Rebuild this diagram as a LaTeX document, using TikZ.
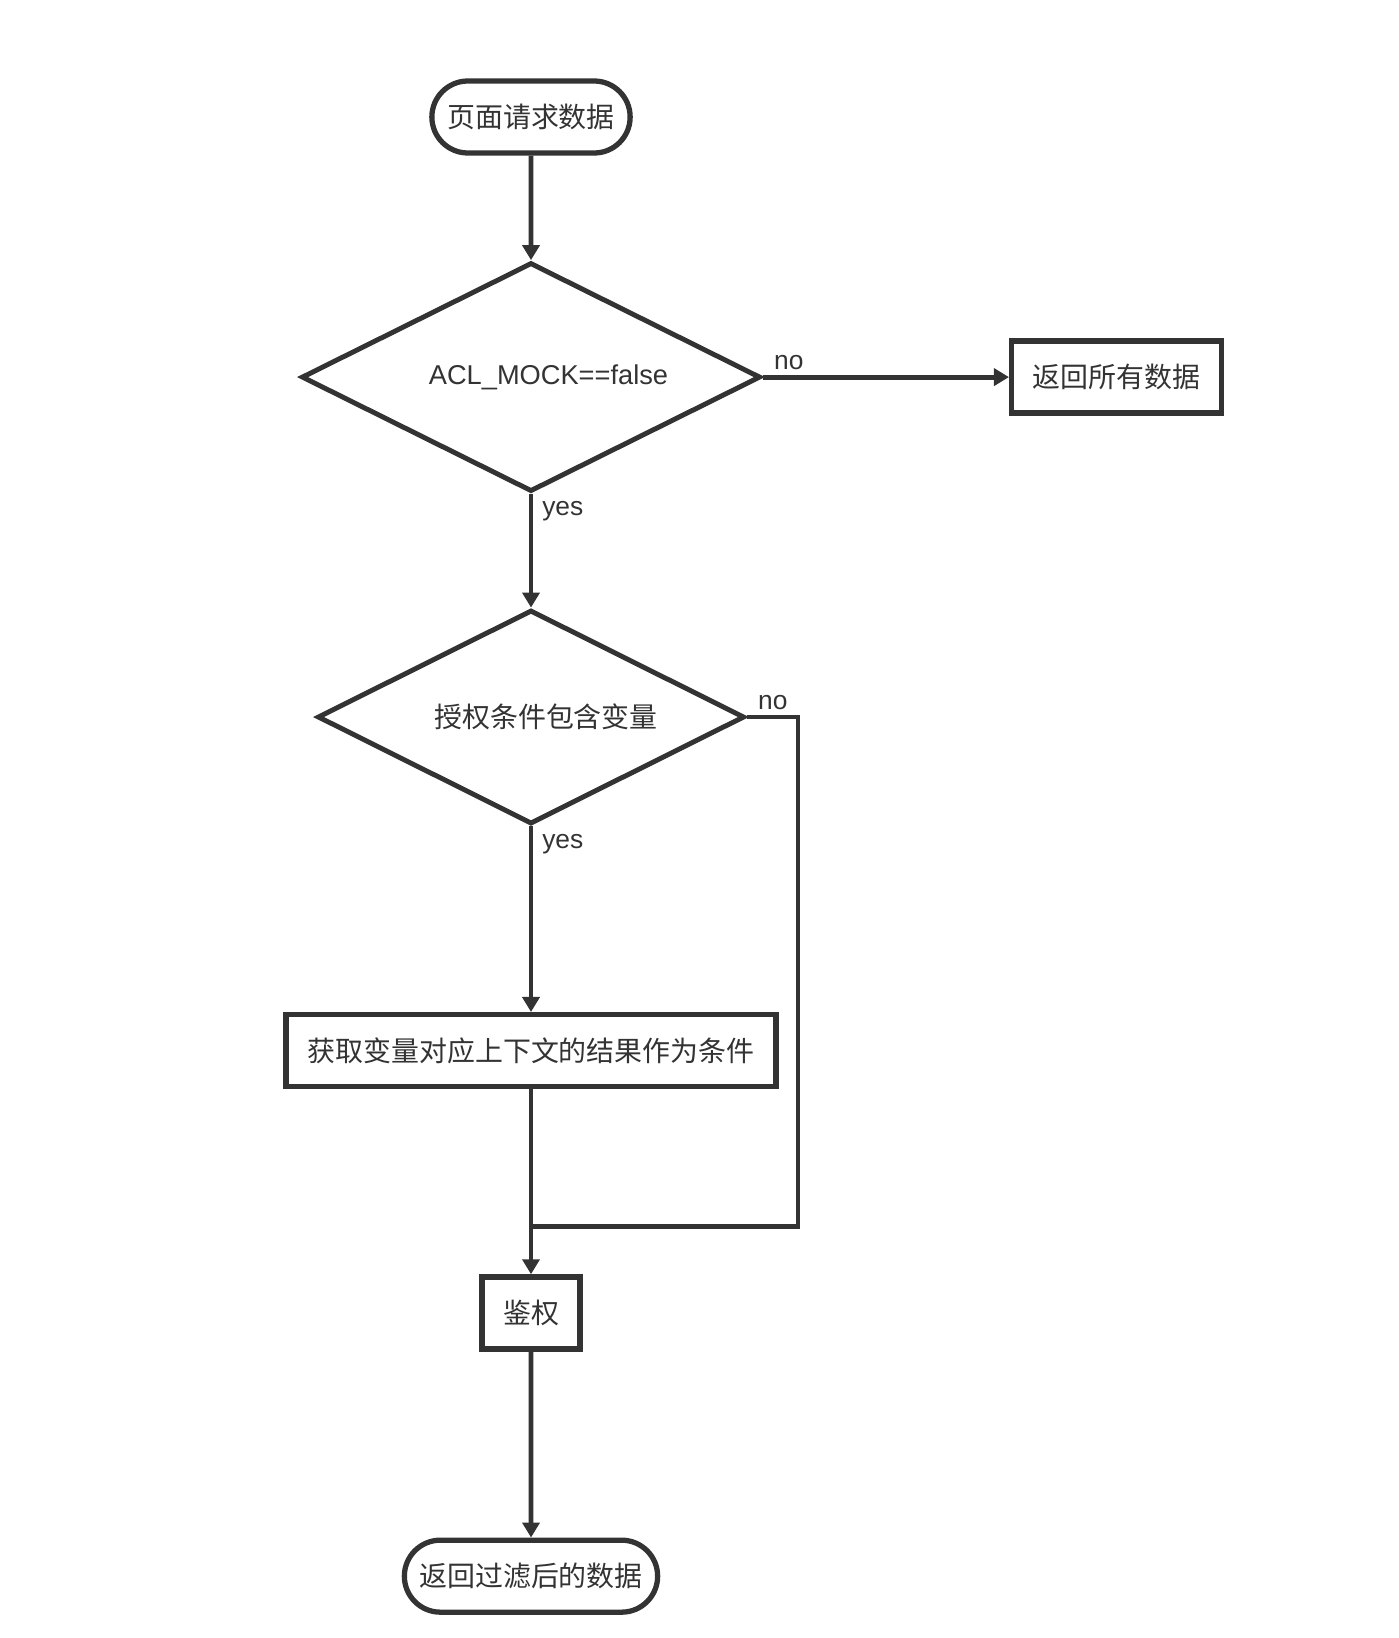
\documentclass[tikz,border=0pt]{standalone}
\usepackage{fontspec}
\setmainfont{Liberation Sans}
\newfontfamily\cjk{Noto Sans CJK SC}
\usepackage{tikz}
\usetikzlibrary{arrows.meta, positioning, shapes.geometric, shapes.misc, calc}
\definecolor{ink}{HTML}{333333}

\begin{document}
\begin{tikzpicture}[
    every node/.style={font=\fontsize{15.5}{18}\selectfont, text=ink},
    term/.style={draw=ink, line width=3pt, rounded rectangle, minimum height=1.44cm, minimum width=#1, font=\cjk\fontsize{15.9}{18}\selectfont},
    box/.style={draw=ink, line width=3pt, rectangle, minimum height=1.44cm, minimum width=#1, font=\cjk\fontsize{15.9}{18}\selectfont},
    cond/.style={draw=ink, line width=2.8pt, diamond, aspect=2, inner sep=0pt},
    arr/.style={-{Triangle[length=0.3cm, width=0.34cm]}, line width=2.8pt, color=ink},
    wire/.style={line width=2.8pt, color=ink},
    lbl/.style={inner sep=3pt, xshift=2pt, font=\fontsize{15}{18}\selectfont},
]
    \useasboundingbox (0,0) rectangle (27.96,-32.76);

    % Main column
    \node[term=4.2cm] (start) at (10.62,-2.34) {页面请求数据};
    \node[cond, minimum width=9.18cm, minimum height=4.58cm, below=2.09cm of start] (mock) {\hspace*{0.7cm}ACL\_MOCK==false};
    \node[box=4.2cm, right=4.92cm of mock] (all) {返回所有数据};
    \node[cond, minimum width=8.54cm, minimum height=4.28cm, below=2.27cm of mock, font=\cjk\fontsize{15.9}{18}\selectfont] (hasvar) {\hspace*{0.6cm}授权条件包含变量};
    \node[box=9.8cm, below=3.71cm of hasvar] (fetch) {获取变量对应上下文的结果作为条件};
    \node[box=1.96cm, below=3.7cm of fetch] (auth) {鉴权};
    \node[term=5.3cm, below=3.72cm of auth] (done) {返回过滤后的数据};
    \coordinate (join) at ($(fetch.south)!0.74!(auth.north)$);

    % Arrows
    \draw[arr] (start) -- (mock);
    \draw[arr] (mock) -- node[lbl, above right, pos=0] {no} (all);
    \draw[arr] (mock) -- node[lbl, below right, pos=0] {yes} (hasvar);
    \draw[arr] (hasvar) -- node[lbl, below right, pos=0] {yes} (fetch);
    \draw[arr] (fetch) -- (auth);
    \draw[wire] (hasvar.east) -- node[lbl, above right, pos=0] {no} ++(1.02cm,0) |- (join);
    \draw[arr] (auth) -- (done);
\end{tikzpicture}
\end{document}
